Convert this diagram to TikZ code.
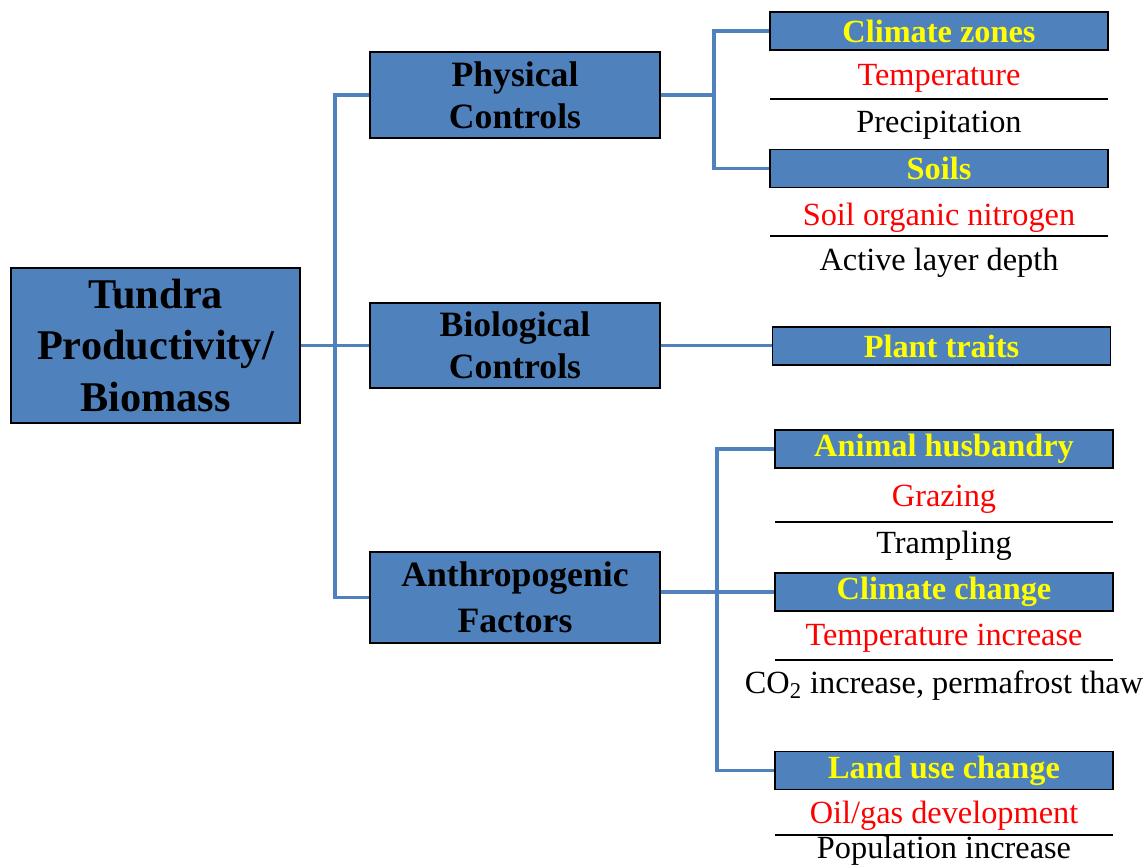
\documentclass[tikz,border=0pt]{standalone}
\usepackage{fontspec}
\setmainfont{Liberation Serif}
\usepackage{xcolor}
\definecolor{boxblue}{HTML}{4F81BD}
\definecolor{headyellow}{HTML}{FFFF00}
\definecolor{itemred}{HTML}{FF0000}

\begin{document}
\begin{tikzpicture}[x=0.02cm, y=-0.02cm,
	box/.style={rectangle, draw=black, line width=1.1pt, fill=boxblue, align=center, inner sep=0pt, font=\bfseries},
	head/.style={box, minimum width=338*0.02cm, minimum height=38*0.02cm, text=headyellow, font=\fontsize{18.4}{20}\selectfont\bfseries},
	item/.style={inner sep=0pt, font=\fontsize{18.4}{20}\selectfont},
	sep/.style={line width=0.8pt, black},
	conn/.style={line width=2pt, draw=boxblue}]

\useasboundingbox (0,0) rectangle (1143,867);

% Main box
\node[box, minimum width=289*0.02cm, minimum height=155*0.02cm, font=\fontsize{24.1}{29.5}\selectfont\bfseries] (main) at (155.5,345.5) {Tundra\\Productivity/\\Biomass};

% Control groups
\node[box, minimum width=290*0.02cm, minimum height=86*0.02cm, font=\fontsize{20.3}{23.8}\selectfont\bfseries] (phys) at (515,95) {Physical\\Controls};
\node[box, minimum width=290*0.02cm, minimum height=85*0.02cm, font=\fontsize{20.3}{23.8}\selectfont\bfseries] (bio) at (515,345.5) {Biological\\Controls};
\node[box, minimum width=290*0.02cm, minimum height=91*0.02cm, font=\fontsize{20.3}{26}\selectfont\bfseries] (anth) at (515,597.5) {Anthropogenic\\Factors};

% Physical sub-factors
\node[head] (clim) at (939,31) {Climate zones};
\node[item, text=itemred] (temp) at (939,78) {Temperature};
\draw[sep] (770,99) -- (1108,99);
\node[item] (prec) at (939,125) {Precipitation};
\node[head] (soil) at (939,168.5) {Soils};
\node[item, text=itemred] (son) at (939,218) {Soil organic nitrogen};
\draw[sep] (770,236) -- (1108,236);
\node[item] (ald) at (939,263) {Active layer depth};

% Biological sub-factors
\node[head] (plant) at (941.5,346) {Plant traits};

% Anthropogenic sub-factors
\node[head] (ah) at (944,449) {Animal husbandry};
\node[item, text=itemred] (graz) at (944,499) {Grazing};
\draw[sep] (775,522) -- (1113,522);
\node[item] (tramp) at (944,546) {Trampling};
\node[head] (cc) at (944,592) {Climate change};
\node[item, text=itemred] (tinc) at (944,638) {Temperature increase};
\draw[sep] (775,660) -- (1113,660);
\node[item] (co2) at (944,686) {CO\textsubscript{2} increase, permafrost thaw};
\node[head] (luc) at (944,770.5) {Land use change};
\node[item, text=itemred] (oil) at (944,816) {Oil/gas development};
\draw[sep] (775,835) -- (1113,835);
\node[item] (pop) at (944,851) {Population increase};

% Connections from main box to groups
\coordinate (busM) at (335,345.5);
\draw[conn] (main.east) -- (bio.west);
\draw[conn] (phys.west) -| (busM) |- (anth.west);

% Connections from groups to sub-factors
\coordinate (busP) at (714,95);
\draw[conn] (phys.east) -- (busP);
\draw[conn] (clim.west) -| (busP) |- (soil.west);
\draw[conn] (bio.east) -- (bio.east -| plant.west);
\coordinate (busA) at (717,592);
\draw[conn] (cc.west) -- (cc.west -| anth.east);
\draw[conn] (ah.west) -| (busA) |- (luc.west);
\end{tikzpicture}
\end{document}
